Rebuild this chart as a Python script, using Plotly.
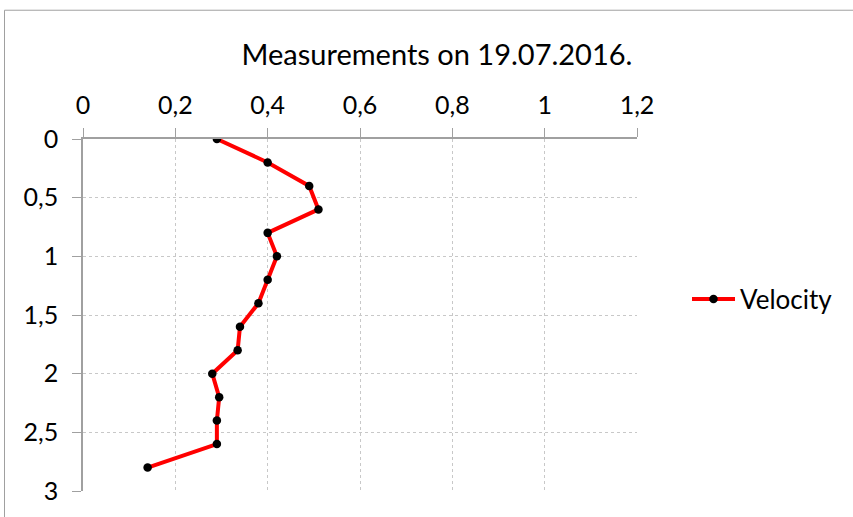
import plotly.graph_objects as go

depth = [0, 0.2, 0.4, 0.6, 0.8, 1.0, 1.2, 1.4, 1.6, 1.8, 2.0, 2.2, 2.4, 2.6, 2.8]
velocity = [0.29, 0.40, 0.49, 0.51, 0.40, 0.42, 0.40, 0.38, 0.34, 0.335, 0.28, 0.295, 0.29, 0.29, 0.14]

x_ticks = [0, 0.2, 0.4, 0.6, 0.8, 1.0, 1.2]
x_labels = ["0", "0,2", "0,4", "0,6", "0,8", "1", "1,2"]
y_ticks = [0, 0.5, 1.0, 1.5, 2.0, 2.5, 3.0]
y_labels = ["0", "0,5", "1", "1,5", "2", "2,5", "3"]

FONT = "Lato"

fig = go.Figure()
fig.add_trace(go.Scatter(
    x=velocity, y=depth, mode="lines+markers", name="Velocity",
    line=dict(color="#ff0000", width=4),
    marker=dict(color="#000000", size=8.5),
))

fig.update_layout(
    width=853, height=517,
    margin=dict(l=83, r=216, t=139, b=24),
    paper_bgcolor="white", plot_bgcolor="white",
    font=dict(family=FONT, color="#000000", size=16),
    title=dict(text="Measurements on 19.07.2016.", x=437 / 853, xanchor="center",
               y=1 - 55 / 517, yanchor="middle", font=dict(size=29, family=FONT)),
    showlegend=True,
    legend=dict(x=(687 - 83) / 554, y=1 - (300 - 139) / 354, xanchor="left", yanchor="middle",
                font=dict(size=26, family=FONT), itemwidth=43, bgcolor="rgba(0,0,0,0)"),
    xaxis=dict(side="top", range=[0, 1.2], tickvals=x_ticks, ticktext=x_labels,
               showline=True, linecolor="#a0a0a0", linewidth=1.5,
               showgrid=True, gridcolor="#c8c8c8", griddash="dot", gridwidth=1,
               ticks="outside", ticklen=9, tickcolor="#a0a0a0", ticklabelstandoff=4,
               zeroline=False, tickfont=dict(size=25)),
    yaxis=dict(range=[3, 0], tickvals=y_ticks, ticktext=y_labels,
               showline=True, linecolor="#a0a0a0", linewidth=1.5,
               showgrid=True, gridcolor="#c8c8c8", griddash="dot", gridwidth=1,
               ticks="outside", ticklen=9, tickcolor="#a0a0a0", ticklabelstandoff=9,
               zeroline=False, tickfont=dict(size=25)),
    shapes=[dict(type="rect", xref="paper", yref="paper",
                 x0=(4.5 - 83) / 554, x1=(870 - 83) / 554,
                 y0=-0.2, y1=1 + (139 - 9.5) / 354,
                 line=dict(color="#a0a0a0", width=1), layer="below")],
)

fig.write_html("out.html", config={"displayModeBar": False},
               post_script="document.body.style.margin='0';")
